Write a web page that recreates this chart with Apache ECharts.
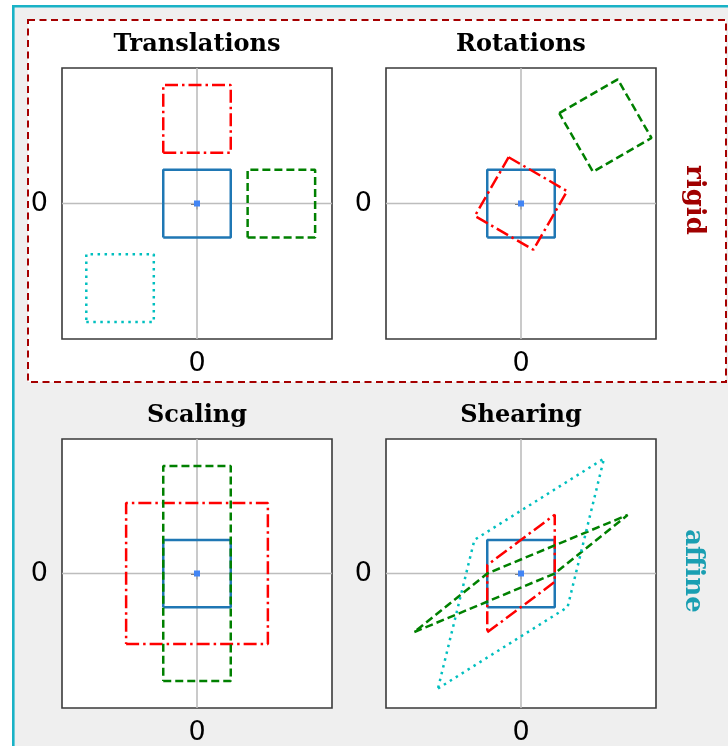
<!DOCTYPE html>
<html>
<head>
<meta charset="utf-8">
<script src="https://cdn.jsdelivr.net/npm/echarts@6/dist/echarts.min.js"></script>
<style>
    html, body { margin: 0; padding: 0; background: #fff; }
    #chart { width: 728px; height: 746px; }
</style>
</head>
<body>
<div id="chart"></div>
<script>
// 坐标范围
const AXIS_MIN = -2;
const AXIS_MAX = 2;
const TICK_VALUES = [0];

const PANEL_TITLES = ['Translations', 'Rotations', 'Scaling', 'Shearing'];

// 原始单位正方形
const unitSquare = [[-0.5, -0.5], [0.5, -0.5], [0.5, 0.5], [-0.5, 0.5]];

// Translations
const transRed = [[-0.5, 0.75], [0.5, 0.75], [0.5, 1.75], [-0.5, 1.75]];
const transGreen = [[0.75, -0.5], [1.75, -0.5], [1.75, 0.5], [0.75, 0.5]];
const transCyan = [[-1.64, -1.75], [-0.64, -1.75], [-0.64, -0.75], [-1.64, -0.75]];

// Rotations
const rotRed = [[-0.183, 0.683], [0.683, 0.183], [0.183, -0.683], [-0.683, -0.183]];
const rotGreen = [[0.567, 1.333], [1.433, 1.833], [1.933, 0.967], [1.067, 0.467]];

// Scaling
const scaleRed = [[-1.05, -1.05], [1.05, -1.05], [1.05, 1.05], [-1.05, 1.05]];
const scaleGreen = [[-0.5, -1.6], [0.5, -1.6], [0.5, 1.6], [-0.5, 1.6]];

// Shearing
const shearRed = [[-0.5, -0.875], [0.5, -0.125], [0.5, 0.875], [-0.5, 0.125]];
const shearGreen = [[-1.58, -0.87], [0.5, 0], [1.58, 0.87], [-0.5, 0]];
const shearCyan = [[-1.23, -1.71], [0.69, -0.5], [1.23, 1.71], [-0.69, 0.5]];

const origin = [[0, 0]];

// 线型
const STYLE = {
    blue: { color: '#1f77b4', width: 2.5, type: 'solid' },
    red: { color: '#ff0000', width: 2.5, type: [13, 4, 2.5, 4] },
    green: { color: '#008000', width: 2.5, type: [8, 4] },
    cyan: { color: '#00bfbf', width: 2.5, type: [2.5, 4.5] }
};

const panels = [
    [['red', transRed], ['green', transGreen], ['cyan', transCyan]],
    [['red', rotRed], ['green', rotGreen]],
    [['red', scaleRed], ['green', scaleGreen]],
    [['red', shearRed], ['green', shearGreen], ['cyan', shearCyan]]
];

const gridPos = [
    { left: 62, top: 68 },
    { left: 386, top: 68 },
    { left: 62, top: 439 },
    { left: 386, top: 439 }
];
const GRID_W = 270;
const GRID_H = 271;

function closed(points) {
    return points.concat([points[0]]);
}

function polySeries(idx, styleName, points, z) {
    return {
        type: 'line',
        xAxisIndex: idx,
        yAxisIndex: idx,
        data: closed(points),
        symbol: 'none',
        silent: true,
        z: z,
        lineStyle: STYLE[styleName]
    };
}

const grids = [];
const xAxes = [];
const yAxes = [];
const series = [];
const graphics = [];

gridPos.forEach((p, i) => {
    grids.push({
        left: p.left, top: p.top, width: GRID_W, height: GRID_H,
        show: true, backgroundColor: '#fff', borderColor: '#3a3a3a', borderWidth: 1.6
    });
    const axisCommon = {
        type: 'value',
        gridIndex: i,
        min: AXIS_MIN,
        max: AXIS_MAX,
        interval: 2,
        axisLine: { show: false },
        splitLine: { show: false },
        axisTick: { show: true, length: 6, customValues: TICK_VALUES, lineStyle: { color: '#3a3a3a', width: 1.5 } },
        axisLabel: { customValues: TICK_VALUES, fontSize: 27, color: '#000', fontFamily: 'DejaVu Sans' }
    };
    xAxes.push(Object.assign({}, axisCommon, { axisLabel: Object.assign({}, axisCommon.axisLabel, { margin: 11 }) }));
    yAxes.push(Object.assign({}, axisCommon, { axisLabel: Object.assign({}, axisCommon.axisLabel, { margin: 14 }) }));

    // 0 处的参考线
    series.push({
        type: 'line', xAxisIndex: i, yAxisIndex: i, symbol: 'none', silent: true, z: 1,
        data: [[AXIS_MIN, 0], [AXIS_MAX, 0]],
        lineStyle: { color: '#bdbdbd', width: 1.6 }
    });
    series.push({
        type: 'line', xAxisIndex: i, yAxisIndex: i, symbol: 'none', silent: true, z: 1,
        data: [[0, AXIS_MIN], [0, AXIS_MAX]],
        lineStyle: { color: '#bdbdbd', width: 1.6 }
    });

    series.push(polySeries(i, 'blue', unitSquare, 2));
    panels[i].forEach(([name, pts]) => series.push(polySeries(i, name, pts, 3)));

    series.push({
        type: 'scatter', xAxisIndex: i, yAxisIndex: i, silent: true, z: 4,
        data: origin, symbol: 'rect', symbolSize: 6,
        itemStyle: { color: '#4285f4', opacity: 1 }
    });

    graphics.push({
        type: 'text', z: 10,
        x: p.left + GRID_W / 2, y: p.top - 23,
        style: {
            text: PANEL_TITLES[i], fill: '#000', align: 'center', verticalAlign: 'middle',
            font: 'bold 24px "DejaVu Serif"'
        }
    });
});

// 背景框
graphics.unshift(
    {
        type: 'rect', z: -10, silent: true,
        shape: { x: 13.3, y: 6.3, width: 740, height: 760 },
        style: { fill: '#efefef', stroke: '#19b2c6', lineWidth: 2.6 }
    },
    {
        type: 'rect', z: -9, silent: true,
        shape: { x: 28, y: 20, width: 698, height: 362 },
        style: { fill: '#fff', stroke: '#a50000', lineWidth: 2, lineDash: [7, 4.5] }
    }
);

graphics.push(
    {
        type: 'text', z: 10, x: 694, y: 200, rotation: -Math.PI / 2,
        style: { text: 'rigid', fill: '#a00000', align: 'center', verticalAlign: 'middle', font: 'bold 26px "DejaVu Serif"' }
    },
    {
        type: 'text', z: 10, x: 693, y: 571, rotation: -Math.PI / 2,
        style: { text: 'affine', fill: '#1a9fb2', align: 'center', verticalAlign: 'middle', font: 'bold 26px "DejaVu Serif"' }
    }
);

const myChart = echarts.init(document.getElementById('chart'));
myChart.setOption({
    animation: false,
    backgroundColor: '#fff',
    grid: grids,
    xAxis: xAxes,
    yAxis: yAxes,
    series: series,
    graphic: graphics
});
</script>
</body>
</html>
